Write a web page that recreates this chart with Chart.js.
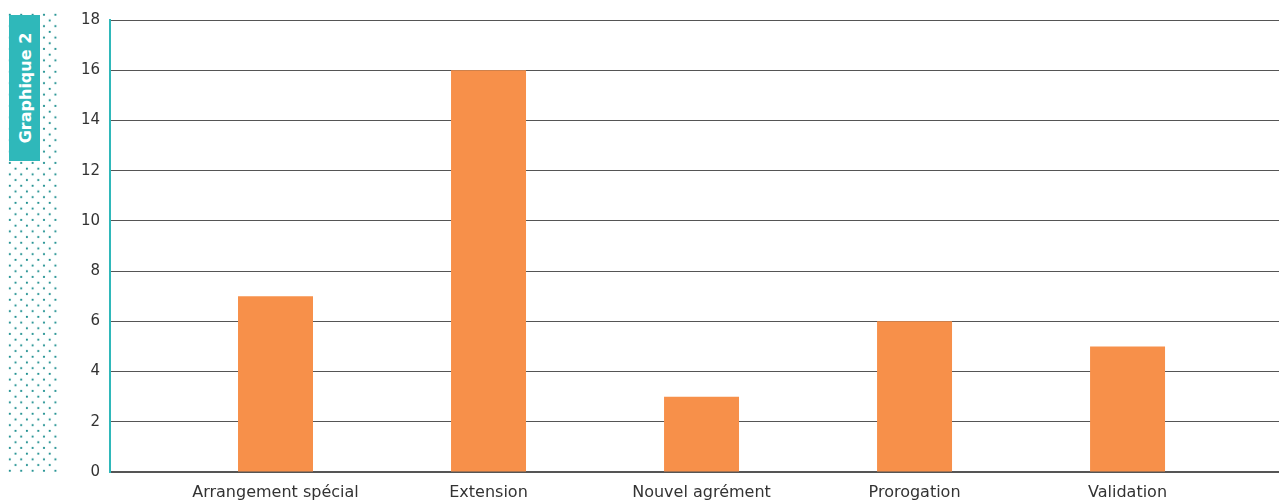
<!DOCTYPE html>
<html>
<head>
<meta charset="utf-8">
<script src="https://cdn.jsdelivr.net/npm/chart.js@4.4.1/dist/chart.umd.min.js"></script>
<style>
  html, body { margin: 0; padding: 0; background: #fff; }
  #wrap { position: relative; width: 1279px; height: 502px; }
  #dots { position: absolute; left: 7px; top: 12px; }
  #tag {
    position: absolute; left: 9px; top: 15px; width: 31px; height: 146px;
    background: #2fb8ba;
  }
  #tag span {
    position: absolute; left: 50%; top: 50%;
    transform: translate(-50%, -50%) rotate(-90deg);
    white-space: nowrap; color: #fff;
    font: bold 16px "DejaVu Sans", sans-serif;
  }
  canvas { position: absolute; left: 0; top: 0; }
</style>
</head>
<body>
<div id="wrap">
  <svg id="dots" width="52" height="461">
    <defs>
      <pattern id="dp" width="11.4" height="11.4" patternUnits="userSpaceOnUse">
        <circle cx="2.8" cy="2.8" r="1.1" fill="#1d8f8f"/>
        <circle cx="8.5" cy="8.5" r="1.1" fill="#1d8f8f"/>
      </pattern>
    </defs>
    <rect width="52" height="461" fill="url(#dp)"/>
  </svg>
  <div id="tag"><span>Graphique 2</span></div>
  <canvas id="myChart" width="1279" height="502"></canvas>
</div>
<script>
const categories = ['Arrangement spécial', 'Extension', 'Nouvel agrément', 'Prorogation', 'Validation'];
const values = [7, 16, 3, 6, 5];
const yTicks = [0, 2, 4, 6, 8, 10, 12, 14, 16, 18];

const points = [];
for (let i = 0; i < values.length; i++) {
    points.push({ x: i, y: values[i] });
}

const ctx = document.getElementById('myChart').getContext('2d');
const myChart = new Chart(ctx, {
    type: 'bar',
    data: {
    datasets: [
        {
        data: points,
        backgroundColor: '#f7904a',
        borderWidth: 0,
        barPercentage: 0.352,
        categoryPercentage: 1,
        },
    ],
    },
    options: {
    responsive: false,
    animation: false,
    layout: { padding: { top: 20, right: 0, left: 0, bottom: 0 } },
    plugins: { legend: { display: false }, tooltip: { enabled: false } },
    scales: {
        x: {
        // linear axis so the bars can sit off-centre like the original
        type: 'linear',
        offset: false,
        min: -0.777,
        max: 4.711,
        afterBuildTicks: (scale) => {
            scale.ticks = categories.map((c, i) => ({ value: i }));
        },
        afterFit: (scale) => { scale.height = 30; },
        grid: { display: false, drawTicks: false, offset: false },
        border: { color: '#555', width: 2 },
        ticks: {
            autoSkip: false,
            maxRotation: 0,
            padding: 11,
            color: '#333',
            font: { family: 'DejaVu Sans', size: 16 },
            callback: (v) => categories[v] ?? '',
        },
        },
        y: {
        min: 0,
        max: 18,
        afterBuildTicks: (scale) => {
            scale.ticks = yTicks.map(v => ({ value: v }));
        },
        afterFit: (scale) => { scale.width = 110; },
        grid: { color: '#555', lineWidth: 1, drawTicks: false },
        border: { color: '#2fb8ba', width: 2 },
        ticks: {
            padding: 10,
            color: '#333',
            font: { family: 'DejaVu Sans', size: 15 },
        },
        },
    },
    },
});
</script>
</body>
</html>
